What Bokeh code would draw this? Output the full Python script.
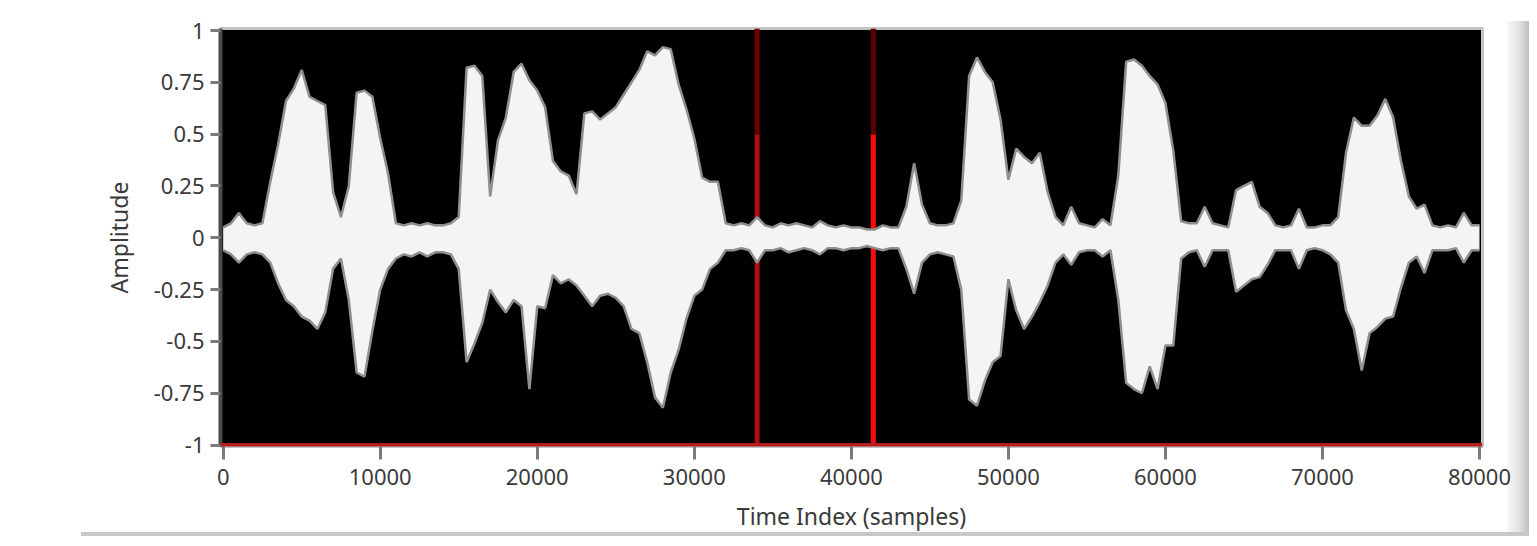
from bokeh.plotting import figure
from bokeh.models import Range1d, FixedTicker, CustomJSTickFormatter, Span
from bokeh.embed import file_html
from bokeh.resources import INLINE

# ---------------- data ----------------
sample_step = 500  # envelope sampled every 500 samples, 0 .. 80000

upper_env = [
    0.05, 0.07, 0.12, 0.07, 0.06, 0.07, 0.27, 0.45, 0.66, 0.72,
    0.81, 0.68, 0.66, 0.64, 0.22, 0.10, 0.25, 0.70, 0.71, 0.68,
    0.48, 0.31, 0.07, 0.06, 0.07, 0.06, 0.07, 0.06, 0.06, 0.07,
    0.10, 0.82, 0.83, 0.78, 0.20, 0.47, 0.58, 0.80, 0.84, 0.76,
    0.71, 0.63, 0.37, 0.32, 0.30, 0.21, 0.60, 0.61, 0.57, 0.60,
    0.63, 0.69, 0.75, 0.81, 0.90, 0.88, 0.92, 0.91, 0.74, 0.62,
    0.48, 0.29, 0.27, 0.27, 0.07, 0.06, 0.07, 0.06, 0.10, 0.06,
    0.05, 0.07, 0.06, 0.07, 0.06, 0.05, 0.08, 0.06, 0.05, 0.06,
    0.05, 0.05, 0.04, 0.04, 0.06, 0.05, 0.05, 0.15, 0.36, 0.16,
    0.07, 0.06, 0.06, 0.07, 0.18, 0.78, 0.87, 0.80, 0.75, 0.57,
    0.28, 0.43, 0.39, 0.36, 0.41, 0.22, 0.10, 0.06, 0.15, 0.07,
    0.06, 0.05, 0.09, 0.06, 0.30, 0.85, 0.86, 0.83, 0.78, 0.74,
    0.65, 0.42, 0.08, 0.07, 0.07, 0.15, 0.07, 0.06, 0.05, 0.23,
    0.25, 0.27, 0.15, 0.12, 0.06, 0.05, 0.06, 0.14, 0.05, 0.05,
    0.06, 0.06, 0.10, 0.41, 0.58, 0.54, 0.54, 0.59, 0.67, 0.58,
    0.37, 0.20, 0.14, 0.16, 0.06, 0.05, 0.06, 0.05, 0.12, 0.06,
    0.06,
]

lower_env = [
    -0.06, -0.08, -0.12, -0.08, -0.07, -0.08, -0.12, -0.22, -0.30, -0.33,
    -0.38, -0.40, -0.44, -0.36, -0.15, -0.10, -0.30, -0.65, -0.67, -0.45,
    -0.25, -0.15, -0.10, -0.08, -0.09, -0.07, -0.09, -0.07, -0.07, -0.08,
    -0.15, -0.60, -0.51, -0.41, -0.25, -0.31, -0.36, -0.30, -0.33, -0.73,
    -0.33, -0.34, -0.18, -0.22, -0.20, -0.23, -0.28, -0.33, -0.28, -0.27,
    -0.29, -0.33, -0.44, -0.46, -0.60, -0.77, -0.82, -0.65, -0.54, -0.39,
    -0.28, -0.25, -0.15, -0.12, -0.06, -0.06, -0.05, -0.06, -0.12, -0.06,
    -0.06, -0.05, -0.07, -0.06, -0.05, -0.06, -0.08, -0.05, -0.05, -0.06,
    -0.05, -0.05, -0.04, -0.05, -0.06, -0.05, -0.05, -0.15, -0.27, -0.12,
    -0.08, -0.07, -0.08, -0.09, -0.25, -0.78, -0.81, -0.69, -0.60, -0.57,
    -0.20, -0.35, -0.44, -0.38, -0.31, -0.23, -0.12, -0.08, -0.13, -0.07,
    -0.06, -0.06, -0.09, -0.06, -0.30, -0.70, -0.73, -0.75, -0.62, -0.73,
    -0.52, -0.52, -0.10, -0.07, -0.06, -0.14, -0.06, -0.06, -0.06, -0.26,
    -0.23, -0.20, -0.19, -0.13, -0.06, -0.06, -0.06, -0.15, -0.06, -0.05,
    -0.06, -0.08, -0.12, -0.35, -0.44, -0.64, -0.46, -0.43, -0.39, -0.38,
    -0.24, -0.12, -0.09, -0.17, -0.06, -0.06, -0.06, -0.05, -0.12, -0.06,
    -0.06,
]

samples = [i * sample_step for i in range(len(upper_env))]

cursor_x = [34000, 41400]
cursor_split = 0.5
cursor_low_colors = ["#b30c0c", "#ff0a0a"]
cursor_high_colors = ["#6e0000", "#5a0000"]

x_ticks = [0, 10000, 20000, 30000, 40000, 50000, 60000, 70000, 80000]
y_ticks = [-1, -0.75, -0.5, -0.25, 0, 0.25, 0.5, 0.75, 1]

x_label = "Time Index (samples)"
y_label = "Amplitude"

# ---------------- figure ----------------
Y_TOP = 1.0097
Y_BOT = -1.007

p = figure(
    width=1537, height=546,
    output_backend="svg", toolbar_location=None,
    x_range=Range1d(-170, 80190), y_range=Range1d(Y_BOT, Y_TOP),
    min_border_left=220, min_border_right=55,
    min_border_top=28, min_border_bottom=100,
    background_fill_color="#000000",
    border_fill_color=None,
)
p.styles = {
    "background-color": "#ffffff",
    "background-image": "linear-gradient(#c8c8c8, #c8c8c8), "
                        "linear-gradient(to right, #f8f8f8, #e2e2e2 55%, #bdbdbd)",
    "background-position": "81px 532px, 1507px 21px",
    "background-size": "1448px 4px, 22px 511px",
    "background-repeat": "no-repeat",
}
p.grid.visible = False
p.outline_line_color = "#c4c4c4"
p.outline_line_width = 3

# cursors (drawn below the waveform)
p.segment(x0=cursor_x, y0=[-1, -1], x1=cursor_x, y1=[cursor_split] * 2,
          line_color=cursor_low_colors, line_width=5)
p.segment(x0=cursor_x, y0=[cursor_split] * 2, x1=cursor_x, y1=[Y_TOP] * 2,
          line_color=cursor_high_colors, line_width=5)

# waveform envelope
p.varea(x=samples, y1=lower_env, y2=upper_env, fill_color="#f4f4f4")
p.line(x=samples, y=upper_env, line_color="#8f8f8f", line_width=2.5)
p.line(x=samples, y=lower_env, line_color="#8f8f8f", line_width=2.5)

# horizontal cursor at -1
p.add_layout(Span(location=-1, dimension="width", line_color="#b41e1e", line_width=4))

FONT = "Noto Sans"

p.xaxis.ticker = FixedTicker(ticks=x_ticks)
p.yaxis.ticker = FixedTicker(ticks=y_ticks)
p.xaxis.formatter = CustomJSTickFormatter(code="return tick.toString();")
p.yaxis.formatter = CustomJSTickFormatter(code="return tick.toString();")

for ax in (p.xaxis[0], p.yaxis[0]):
    ax.minor_tick_line_color = None
    ax.major_tick_in = 0
    ax.major_tick_line_color = "#7a7a7a"
    ax.major_tick_line_width = 3
    ax.major_label_text_font = FONT
    ax.major_label_text_font_size = "22px"
    ax.major_label_text_color = "#3a3a3a"
    ax.axis_label_text_font = FONT
    ax.axis_label_text_font_size = "23px"
    ax.axis_label_text_font_style = "normal"
    ax.axis_label_text_color = "#3a3a3a"

p.xaxis.axis_label = x_label
p.yaxis.axis_label = y_label
p.xaxis.major_tick_out = 13
p.xaxis.major_label_standoff = 9
p.xaxis.axis_label_standoff = 12
p.xaxis.axis_line_color = None
p.yaxis.major_tick_out = 10
p.yaxis.major_label_standoff = 6
p.yaxis.axis_label_standoff = 16
p.yaxis.axis_line_color = "#4a4a4a"
p.yaxis.axis_line_width = 4

open("out.html", "w").write(file_html(p, INLINE))
